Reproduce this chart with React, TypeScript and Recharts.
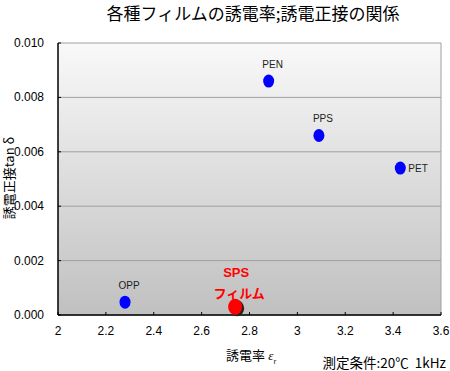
import { ScatterChart, Scatter, XAxis, YAxis, CartesianGrid, ReferenceLine } from "recharts";

const filmNames = ["PEN", "PPS", "PET", "OPP"];
const permittivity = [2.88, 3.09, 3.43, 2.28];
const tanDelta = [0.0086, 0.0066, 0.0054, 0.00047];
const labelSide = ["top", "top", "right", "top"];

const spsName = ["SPS", "フィルム"];
const spsPermittivity = [2.74];
const spsTanDelta = [0.0003];

const xTicks = [2, 2.2, 2.4, 2.6, 2.8, 3, 3.2, 3.4, 3.6];
const yTicks = [0, 0.002, 0.004, 0.006, 0.008, 0.01];

const films = filmNames.map((name, i) => ({
  name,
  x: permittivity[i],
  y: tanDelta[i],
  side: labelSide[i],
}));
const sps = spsPermittivity.map((x, i) => ({ name: spsName.join(""), x, y: spsTanDelta[i] }));

const FONT = "'Liberation Sans', Arial, sans-serif";
const JP = "'Noto Sans CJK JP', sans-serif";

const BluePoint = ({ cx, cy, payload }: any) => {
  if (cx == null || cy == null) return null;
  const right = payload.side === "right";
  return (
    <g>
      <ellipse cx={cx} cy={cy} rx={5.5} ry={6.5} fill="#0000ff" />
      <text
        x={right ? cx + 8 : cx + 4}
        y={right ? cy + 4 : cy - 13}
        textAnchor={right ? "start" : "middle"}
        fontSize={10}
        fontFamily={FONT}
        fill="#222"
      >
        {payload.name}
      </text>
    </g>
  );
};

const RedPoint = ({ cx, cy }: any) => {
  if (cx == null || cy == null) return null;
  return (
    <g>
      <ellipse cx={cx + 2} cy={cy + 1.5} rx={7} ry={8} fill="#222" />
      <ellipse cx={cx} cy={cy} rx={7} ry={8} fill="#ff0000" />
      <text x={cx + 1} y={cy - 30} textAnchor="middle" fontSize={13} fontWeight="bold" fontFamily={FONT} fill="#ff0000">
        {spsName[0]}
      </text>
      <text x={cx + 4} y={cy - 9} textAnchor="middle" fontSize={13} fontWeight="bold" fontFamily={JP} fill="#ff0000">
        {spsName[1]}
      </text>
    </g>
  );
};

const XTick = ({ x, y, payload }: any) => (
  <g>
    <line x1={x} y1={y} x2={x} y2={y - 3} stroke="#000" />
    <text x={x} y={y + 20} textAnchor="middle" fontSize={12} fontFamily={FONT} fill="#000">
      {String(payload.value)}
    </text>
  </g>
);

const YTick = ({ x, y, payload }: any) => (
  <g>
    <line x1={x} y1={y} x2={x + 3} y2={y} stroke="#000" />
    <text x={x - 14} y={y + 4} textAnchor="end" fontSize={12} fontFamily={FONT} fill="#000">
      {Number(payload.value).toFixed(3)}
    </text>
  </g>
);

export default function App() {
  return (
    <div style={{ position: "relative", width: 450, height: 371, background: "#fff", overflow: "hidden" }}>
      <style>{"body{margin:0}"}</style>
      <ScatterChart width={450} height={371} margin={{ top: 43, right: 9, bottom: 26, left: 8 }}>
        <defs>
          <linearGradient id="plotBg" x1="0" y1="0" x2="0" y2="1">
            <stop offset="0%" stopColor="#f9f9f9" />
            <stop offset="100%" stopColor="#c0c0c0" />
          </linearGradient>
        </defs>
        <CartesianGrid fill="url(#plotBg)" stroke="#a0a0a0" vertical={false} horizontalValues={yTicks} />
        <XAxis
          type="number"
          dataKey="x"
          domain={[2, 3.6]}
          ticks={xTicks}
          height={30}
          tickSize={0}
          tickMargin={0}
          tick={<XTick />}
          axisLine={{ stroke: "#000", strokeWidth: 1.5 }}
          interval={0}
        />
        <YAxis
          type="number"
          dataKey="y"
          domain={[0, 0.01]}
          ticks={yTicks}
          tickSize={0}
          tickMargin={0}
          width={50}
          tick={<YTick />}
          axisLine={{ stroke: "#000", strokeWidth: 1.5 }}
          interval={0}
        />
        <ReferenceLine x={3.6} stroke="#a0a0a0" />
        <Scatter data={films} shape={<BluePoint />} isAnimationActive={false} />
        <Scatter data={sps} shape={<RedPoint />} isAnimationActive={false} />
      </ScatterChart>
      <div style={{ position: "absolute", left: 0, top: 0, width: 506, textAlign: "center", fontFamily: JP, fontSize: 17, color: "#000", whiteSpace: "nowrap" }}>
        各種フィルムの誘電率;誘電正接の関係
      </div>
      <div
        style={{
          position: "absolute",
          left: 9,
          top: 178,
          transform: "translate(-50%, -50%) rotate(-90deg)",
          fontFamily: JP,
          fontSize: 13,
          lineHeight: "16px",
          whiteSpace: "nowrap",
          color: "#000",
        }}
      >
        誘電正接tan δ
      </div>
      <div style={{ position: "absolute", left: 226, top: 346, fontFamily: JP, fontSize: 13, lineHeight: "18px", whiteSpace: "nowrap", color: "#000" }}>
        誘電率<span style={{ fontFamily: "serif", fontStyle: "italic" }}> ε</span>
        <sub style={{ fontSize: 7 }}>r</sub>
      </div>
      <div style={{ position: "absolute", right: 4, top: 354, fontFamily: JP, fontSize: 13.5, lineHeight: "16px", whiteSpace: "pre", color: "#000" }}>
        測定条件:20℃  1kHz
      </div>
    </div>
  );
}
